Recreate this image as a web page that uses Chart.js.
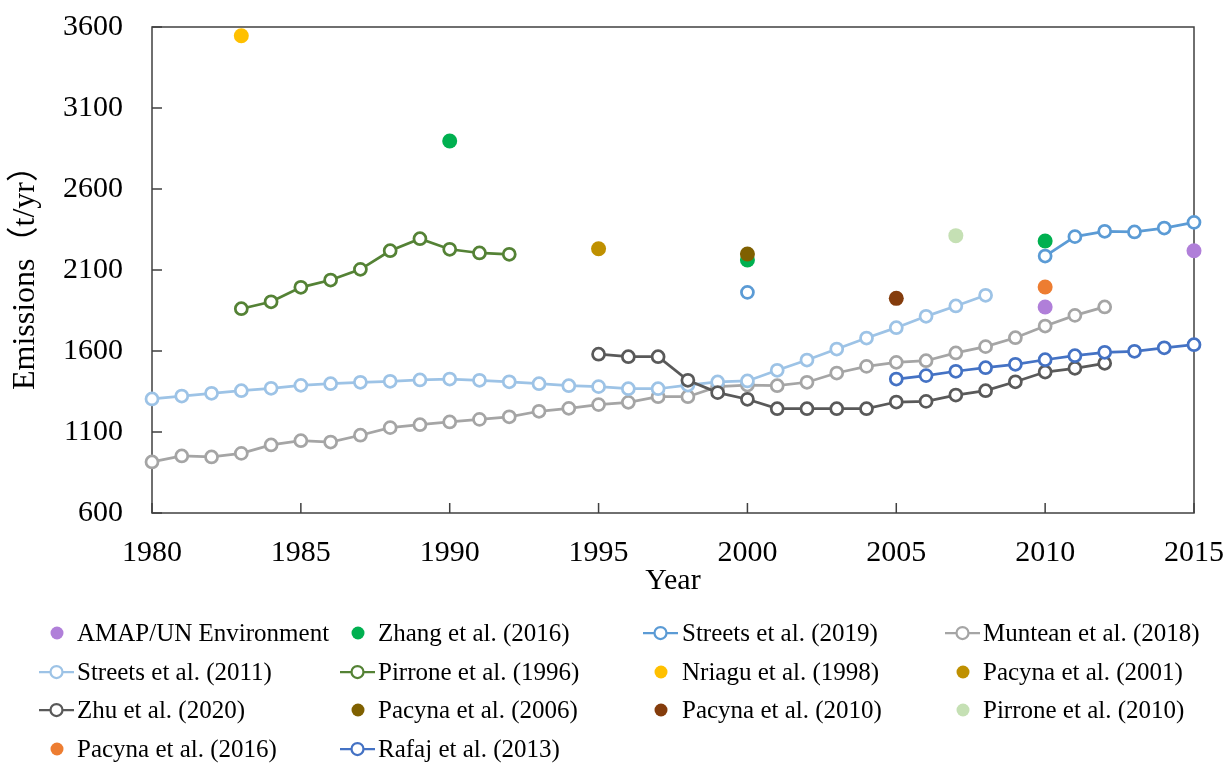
<!DOCTYPE html>
<html>
<head>
<meta charset="utf-8">
<title>Emissions</title>
<script src="https://cdn.jsdelivr.net/npm/chart.js@4/dist/chart.umd.min.js"></script>
<style>
  html, body { margin: 0; padding: 0; background: #fff; }
  #wrap { position: relative; width: 1228px; height: 763px; }
  #legend { position: absolute; left: 0; top: 0; width: 1228px; height: 763px; pointer-events: none;
    font-family: 'Liberation Serif', 'Times New Roman', serif; font-size: 25px; color: #000; }
  .lg-icon { position: absolute; width: 36px; height: 20px; }
  .lg-text { position: absolute; white-space: nowrap; line-height: 30px; }
</style>
</head>
<body>
<div id="wrap">
  <canvas id="chart" width="1228" height="763"></canvas>
  <div id="legend"></div>
</div>
<script>
/* ===== data ===== */
const amapYears = [2010, 2015];
const amapValues = [1872, 2219];

const zhangYears = [1990, 2000, 2010];
const zhangValues = [2896, 2162, 2279];

const streets2019Years = [2000, 2001, 2010, 2011, 2012, 2013, 2014, 2015];
const streets2019Values = [1962, null, 2186, 2306, 2339, 2335, 2359, 2394];

const munteanYears = [1980, 1981, 1982, 1983, 1984, 1985, 1986, 1987, 1988, 1989, 1990, 1991, 1992, 1993, 1994, 1995, 1996,
  1997, 1998, 1999, 2000, 2001, 2002, 2003, 2004, 2005, 2006, 2007, 2008, 2009, 2010, 2011, 2012];
const munteanValues = [915, 952, 946, 968, 1020, 1046, 1038, 1080, 1127, 1145, 1162, 1178, 1194, 1228, 1246, 1269, 1283,
  1318, 1318, 1380, 1390, 1386, 1407, 1464, 1505, 1530, 1540, 1588, 1627, 1682, 1754, 1820, 1872];

const streets2011Years = [1980, 1981, 1982, 1983, 1984, 1985, 1986, 1987, 1988, 1989, 1990, 1991, 1992, 1993, 1994, 1995,
  1996, 1997, 1998, 1999, 2000, 2001, 2002, 2003, 2004, 2005, 2006, 2007, 2008];
const streets2011Values = [1304, 1322, 1339, 1355, 1370, 1388, 1398, 1407, 1413, 1421, 1427, 1419, 1410, 1398, 1386, 1380,
  1367, 1367, 1390, 1409, 1415, 1481, 1544, 1612, 1680, 1744, 1814, 1878, 1944];

const pirrone1996Years = [1983, 1984, 1985, 1986, 1987, 1988, 1989, 1990, 1991, 1992];
const pirrone1996Values = [1861, 1904, 1993, 2038, 2104, 2219, 2293, 2228, 2205, 2197];

const nriaguYears = [1983];
const nriaguValues = [3546];

const pacyna2001Years = [1995];
const pacyna2001Values = [2231];

const zhuYears = [1995, 1996, 1997, 1998, 1999, 2000, 2001, 2002, 2003, 2004, 2005, 2006, 2007, 2008, 2009, 2010, 2011, 2012];
const zhuValues = [1580, 1565, 1565, 1419, 1343, 1302, 1244, 1244, 1244, 1244, 1285, 1289, 1328, 1355, 1410, 1470, 1493, 1524];

const pacyna2006Years = [2000];
const pacyna2006Values = [2199];

const pacyna2010Years = [2005];
const pacyna2010Values = [1925];

const pirrone2010Years = [2007];
const pirrone2010Values = [2312];

const pacyna2016Years = [2010];
const pacyna2016Values = [1995];

const rafajYears = [2005, 2006, 2007, 2008, 2009, 2010, 2011, 2012, 2013, 2014, 2015];
const rafajValues = [1427, 1448, 1475, 1497, 1518, 1546, 1571, 1592, 1598, 1620, 1639];

const yTicks = [600, 1100, 1600, 2100, 2600, 3100, 3600];
const xTicks = [1980, 1985, 1990, 1995, 2000, 2005, 2010, 2015];

/* ===== series table (legend order) ===== */
const FONT = "'Liberation Serif', 'Times New Roman', 'Noto Sans CJK SC', serif";
const series = [
  { label: 'AMAP/UN Environment', years: amapYears, values: amapValues, color: '#b07fd9', line: false },
  { label: 'Zhang et al. (2016)', years: zhangYears, values: zhangValues, color: '#00b050', line: false },
  { label: 'Streets et al. (2019)', years: streets2019Years, values: streets2019Values, color: '#5b9bd5', line: true },
  { label: 'Muntean et al. (2018)', years: munteanYears, values: munteanValues, color: '#a5a5a5', line: true },
  { label: 'Streets et al. (2011)', years: streets2011Years, values: streets2011Values, color: '#9dc3e6', line: true },
  { label: 'Pirrone et al. (1996)', years: pirrone1996Years, values: pirrone1996Values, color: '#548235', line: true },
  { label: 'Nriagu et al. (1998)', years: nriaguYears, values: nriaguValues, color: '#ffc000', line: false },
  { label: 'Pacyna et al. (2001)', years: pacyna2001Years, values: pacyna2001Values, color: '#bf9000', line: false },
  { label: 'Zhu et al. (2020)', years: zhuYears, values: zhuValues, color: '#595959', line: true },
  { label: 'Pacyna et al. (2006)', years: pacyna2006Years, values: pacyna2006Values, color: '#7f6000', line: false },
  { label: 'Pacyna et al. (2010)', years: pacyna2010Years, values: pacyna2010Values, color: '#843c0c', line: false },
  { label: 'Pirrone et al. (2010)', years: pirrone2010Years, values: pirrone2010Values, color: '#c5e0b4', line: false },
  { label: 'Pacyna et al. (2016)', years: pacyna2016Years, values: pacyna2016Values, color: '#ed7d31', line: false },
  { label: 'Rafaj et al. (2013)', years: rafajYears, values: rafajValues, color: '#4472c4', line: true }
];

const datasets = series.map((s, i) => {
  const base = {
    label: s.label,
    data: s.years.map((y, k) => ({ x: y, y: s.values[k] })),
    order: series.length - i, // later series drawn on top, like the original
    clip: false
  };
  if (s.line) {
    return Object.assign(base, {
      showLine: true, borderColor: s.color, borderWidth: 2.75, tension: 0, spanGaps: false,
      pointStyle: 'circle', pointRadius: 6, pointBorderWidth: 2.75,
      pointBorderColor: s.color, pointBackgroundColor: '#fff'
    });
  }
  return Object.assign(base, {
    showLine: false, pointStyle: 'circle', pointRadius: 7.5, pointBorderWidth: 0,
    pointBackgroundColor: s.color, pointBorderColor: s.color, backgroundColor: s.color
  });
});

/* frame + inward tick marks */
const framePlugin = {
  id: 'frame',
  beforeDatasetsDraw(chart) {
    const { ctx, chartArea: a, scales } = chart;
    ctx.save();
    ctx.strokeStyle = '#404040';
    ctx.lineWidth = 1.5;
    ctx.strokeRect(a.left, a.top, a.right - a.left, a.bottom - a.top);
    ctx.beginPath();
    xTicks.forEach(v => {
      const px = scales.x.getPixelForValue(v);
      ctx.moveTo(px, a.bottom); ctx.lineTo(px, a.bottom - 10);
    });
    yTicks.forEach(v => {
      const py = scales.y.getPixelForValue(v);
      ctx.moveTo(a.left, py); ctx.lineTo(a.left + 10, py);
    });
    ctx.stroke();
    ctx.restore();
  }
};

new Chart(document.getElementById('chart'), {
  type: 'scatter',
  data: { datasets },
  options: {
    responsive: false,
    animation: false,
    devicePixelRatio: 1,
    layout: { padding: { left: 0, right: 34, top: 27, bottom: 164 } },
    plugins: { legend: { display: false }, tooltip: { enabled: false } },
    scales: {
      x: {
        type: 'linear', min: 1980, max: 2015,
        afterBuildTicks: s => { s.ticks = xTicks.map(v => ({ value: v })); },
        afterFit: s => { s.height = 86; s.paddingLeft = 0; s.paddingRight = 0; },
        ticks: { color: '#000', padding: 22, font: { family: FONT, size: 30 }, callback: v => String(v) },
        grid: { display: false, drawTicks: false },
        border: { display: false },
        title: { display: true, text: 'Year', color: '#000', padding: 0, font: { family: FONT, size: 30 } }
      },
      y: {
        min: 600, max: 3600,
        afterBuildTicks: s => { s.ticks = yTicks.map(v => ({ value: v })); },
        afterFit: s => { s.width = 152; s.paddingTop = 0; s.paddingBottom = 0; },
        ticks: { color: '#000', padding: 29, font: { family: FONT, size: 30 }, callback: v => String(v) },
        grid: { display: false, drawTicks: false },
        border: { display: false },
        title: { display: true, text: 'Emissions（t/yr）', color: '#000', padding: { top: 6, bottom: 0 }, font: { family: FONT, size: 32 } }
      }
    }
  },
  plugins: [framePlugin]
});

/* ===== legend (4 columns, like the figure) ===== */
const iconLeft = [39, 340, 643, 945];
const textLeft = [77, 378, 682, 983];
const rowY = [633, 672, 710, 749];
const legendEl = document.getElementById('legend');
const svgNS = 'http://www.w3.org/2000/svg';
series.forEach((s, i) => {
  const col = i % 4, row = Math.floor(i / 4);
  const svg = document.createElementNS(svgNS, 'svg');
  svg.setAttribute('class', 'lg-icon');
  svg.setAttribute('width', '36'); svg.setAttribute('height', '20');
  svg.style.left = iconLeft[col] + 'px';
  svg.style.top = (rowY[row] - 10) + 'px';
  if (s.line) {
    const ln = document.createElementNS(svgNS, 'line');
    ln.setAttribute('x1', '0'); ln.setAttribute('x2', '35'); ln.setAttribute('y1', '10'); ln.setAttribute('y2', '10');
    ln.setAttribute('stroke', s.color); ln.setAttribute('stroke-width', '2.25');
    svg.appendChild(ln);
    const c = document.createElementNS(svgNS, 'circle');
    c.setAttribute('cx', '17.5'); c.setAttribute('cy', '10'); c.setAttribute('r', '6');
    c.setAttribute('fill', '#fff'); c.setAttribute('stroke', s.color); c.setAttribute('stroke-width', '2.25');
    svg.appendChild(c);
  } else {
    const c = document.createElementNS(svgNS, 'circle');
    c.setAttribute('cx', '18'); c.setAttribute('cy', '10'); c.setAttribute('r', '6.5');
    c.setAttribute('fill', s.color);
    svg.appendChild(c);
  }
  legendEl.appendChild(svg);
  const t = document.createElement('div');
  t.className = 'lg-text';
  t.textContent = s.label;
  t.style.left = textLeft[col] + 'px';
  t.style.top = (rowY[row] - 15) + 'px';
  legendEl.appendChild(t);
});
</script>
</body>
</html>
